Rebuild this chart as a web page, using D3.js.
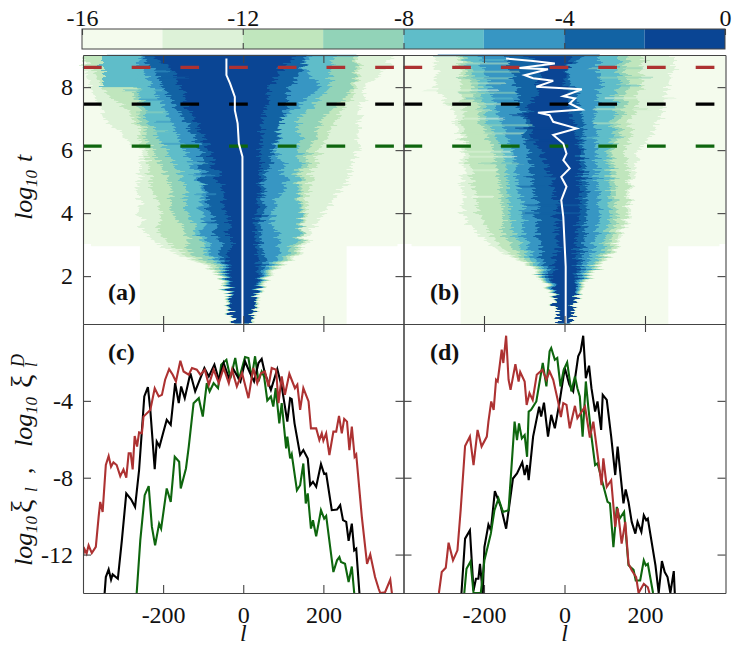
<!DOCTYPE html>
<html>
<head>
<meta charset="utf-8">
<script src="https://cdn.jsdelivr.net/npm/d3@7"></script>
<style>
  html, body { margin: 0; padding: 0; background: #fff; }
  text { font-family: "Liberation Serif", serif; fill: #111; }
  .tick line, .domain { stroke: #444; stroke-width: 1.1; }
</style>
</head>
<body>
<svg width="734" height="646"></svg>
<script>
// colour bins of the bar, lowest to highest
const binEdges = [-16, -14, -12, -10, -8, -6, -4, -2, 0];
const binColors = ["#f4fbed", "#ddf2d8", "#c0e6bd", "#92d3b8", "#5fbdc9", "#3796c3", "#1263a4", "#0a4594"];

// heat maps: for each log10 t row, l of the left and right edge of each level
const rowT = [0.5, 1.25, 2, 2.4, 2.85, 3.35, 4, 5, 6, 7, 8, 8.65, 9.02];
const paleT = [0.48, 2.95, 2.95, 3.02, 3.02, 9.02];
const paleL = [-258, -258, -380, -380, -400, -400];
const paleR = [258, 258, 385, 385, 400, 400];

const aLeft = [
  [-29, -42, -62, -108, -192, -246, -258, -262, -258, -346, -379, -400, -400],
  [-27, -40, -58, -100, -167, -212, -204, -233, -246, -271, -350, -383, -400],
  [-26, -38, -54, -83, -142, -142, -179, -183, -229, -258, -267, -350, -350],
  [-25, -36, -50, -67, -100, -117, -142, -146, -192, -242, -258, -350, -350],
  [-24, -34, -46, -58, -87, -104, -104, -104, -146, -183, -225, -254, -258],
  [-22, -31, -42, -50, -58, -67, -83, -100, -104, -150, -200, -225, -254],
  [-25, -33, -36, -42, -33, -33, -42, -58, -83, -125, -158, -183, -233]
];
const aRight = [
  [25, 38, 67, 108, 150, 167, 200, 258, 283, 288, 300, 367, 367],
  [22, 35, 62, 100, 142, 150, 154, 167, 192, 233, 283, 292, 283],
  [20, 33, 58, 92, 133, 150, 146, 142, 167, 200, 275, 283, 275],
  [19, 31, 54, 83, 117, 142, 142, 133, 142, 142, 217, 217, 233],
  [18, 30, 50, 75, 92, 83, 67, 108, 83, 100, 192, 150, 167],
  [17, 28, 46, 58, 46, 42, 50, 50, 75, 100, 117, 150, 150],
  [18, 30, 38, 38, 33, 29, 33, 42, 42, 50, 67, 100, 133]
];
const bLeft = [
  [-20, -32, -62, -99, -170, -220, -253, -253, -253, -270, -320, -320, -320],
  [-18, -30, -57, -95, -153, -187, -212, -228, -245, -253, -257, -262, -262],
  [-17, -28, -53, -87, -128, -153, -153, -162, -178, -212, -228, -253, -253],
  [-16, -26, -49, -78, -108, -124, -137, -141, -153, -195, -208, -237, -245],
  [-15, -24, -45, -66, -91, -99, -103, -116, -128, -162, -187, -203, -212],
  [-13, -20, -37, -53, -62, -66, -70, -78, -91, -103, -120, -137, -145],
  [-18, -27, -28, -28, -20, -20, -20, -28, -60, -95, -62, -60, -100]
];
const bRight = [
  [18, 30, 63, 97, 130, 147, 163, 163, 188, 238, 255, 272, 272],
  [16, 28, 59, 92, 126, 138, 155, 155, 155, 163, 188, 197, 197],
  [15, 26, 55, 84, 113, 122, 130, 122, 122, 138, 155, 155, 163],
  [14, 24, 51, 76, 97, 105, 113, 109, 109, 118, 130, 138, 138],
  [13, 22, 47, 59, 72, 80, 88, 80, 80, 72, 88, 88, 88],
  [11, 18, 38, 43, 47, 51, 55, 55, 47, 47, 22, 5, 55],
  [15, 25, 30, 30, 26, 30, 38, 38, 38, 22, 5, 5, 20]
];

// single rows that stand out from the bands: log10 t, l range, bin
const aRowT = [9, 9, 9, 8.5, 8.3, 7.9, 7.6, 7.2, 6.9, 6.6, 6.2, 5.6, 5.2, 4.6, 4.2, 3.7, 3.2];
const aRowA = [-340, -255, 150, -240, -200, -300, -250, -270, -220, -250, -200, -150, -130, -120, -110, -100, -70];
const aRowB = [-255, 150, 285, -190, -140, -200, -190, -200, -150, -190, -140, -90, -80, -70, -80, -60, -40];
const aRowBin = [5, 7, 5, 5, 6, 4, 5, 3, 5, 3, 5, 4, 5, 5, 5, 6, 6];

const bRowT = [9.01, 8.86, 8.75, 8.49, 8.28, 8.12, 7.9, 7.82, 7.64, 7.46, 7.27, 7.11, 7, 6.79, 6.69, 6.53, 6.32, 5.95, 5.79, 5.58, 5.36, 5.15, 4.84, 4.52, 4.25, 4, 8.6, 8.3, 8.05, 7.65, 7.3, 6.85, 6.4];
const bRowA = [-320, -250, -260, -240, -260, -250, -350, -260, -250, -300, -260, -130, -250, -200, -120, -230, -100, -250, -250, -200, -240, -90, -110, -240, -100, -110, 60, 80, 90, 100, 70, 70, 60];
const bRowB = [90, -130, -140, -110, -130, -150, -160, -120, -130, -150, -180, 5, -150, -90, 0, -100, 20, -130, -120, -110, -170, -20, -40, -180, 60, 50, 200, 220, 180, 270, 210, 170, 140];
const bRowBin = [6, 4, 2, 3, 3, 2, 1, 3, 4, 2, 2, 7, 1, 3, 7, 2, 7, 1, 1, 3, 1, 6, 6, 0, 6, 6, 3, 3, 4, 1, 2, 2, 4];

// block of the map that stops abruptly at log10 t = 8
const aBlockT = [9, 8];
const aBlockL = [-350, -260];
const aBlockBin = 4;

// white curves drawn over the maps
const aWhiteL = [-42, -42, -42, -33, -21, -21, -14, -11, -2, -2, -2];
const aWhiteT = [8.91, 8.65, 8.38, 8.12, 7.69, 7.27, 6.85, 6.21, 5.79, 4.84, 0.48];
const bWhiteL = [-145, -78, -24, -112, -41, -99, -78, -28, -70, 43, -3, 26, 13, 43, -66, -37, -28, 30, -28, -3, 5, -3, 13, -8, 5, -8, -3, 3, 3];
const bWhiteT = [8.91, 8.83, 8.75, 8.61, 8.57, 8.38, 8.28, 8.2, 8.01, 7.93, 7.71, 7.64, 7.48, 7.29, 7.19, 7.11, 6.9, 6.69, 6.48, 6.21, 5.89, 5.68, 5.42, 5.15, 4.84, 4.41, 3.88, 2.3, 0.5];

// times marked by the dashed lines
const markT = [8.63, 7.46, 6.13];
const markColors = ["#ad3232", "#000000", "#0e660e"];

// profiles of panel (c): red, black, green
const cRedL = [-403, -396, -391, -386, -378, -368, -361, -357, -351, -343, -336, -330, -324, -316, -307, -299, -292, -286, -281, -276, -271, -265, -260, -253, -249, -232, -221, -211, -203, -195, -185, -176, -168, -157, -149, -136, -128, -116, -107, -96, -86, -74, -61, -49, -36, -28, -16, -3, 13, 25, 35, 44, 54, 63, 71, 82, 88, 96, 104, 115, 129, 135, 142, 150, 163, 169, 182, 190, 196, 200, 207, 215, 225, 232, 239, 246, 252, 259, 265, 271, 278, 282, 296, 309, 317, 329, 338, 342, 354, 367, 371];
const cRedV = [-12.3, -11.73, -11.95, -11.52, -11.92, -11.6, -10.04, -9.26, -9.78, -7.34, -6.87, -7.43, -7.2, -7.34, -7.92, -7.57, -8, -6.73, -6.73, -7.57, -5.83, -6.38, -5.64, -5.69, -4.82, -4.47, -3.34, -3.77, -3.69, -2.9, -2.35, -2.64, -2.99, -1.91, -2.47, -2.64, -2.29, -2.38, -2.64, -2.38, -3.16, -2.38, -3.08, -2.29, -3.08, -2.38, -3.25, -2.55, -3.86, -2.29, -3.08, -2.56, -2.47, -3.25, -2.29, -2.38, -4.12, -2.73, -3.69, -2.59, -3.34, -3.16, -4.47, -3.34, -4.03, -5.43, -5.43, -6.04, -5.69, -6.07, -5.69, -6.82, -5.6, -5.6, -4.78, -5.69, -4.94, -5.08, -6.56, -5.34, -6.91, -6.79, -10.04, -12.48, -11.99, -13.17, -13.78, -14, -13.96, -13.3, -14];
const cBlackL = [-346, -343, -336, -330, -326, -313, -303, -292, -280, -270, -260, -247, -238, -232, -221, -216, -209, -199, -191, -181, -170, -161, -155, -146, -132, -120, -107, -97, -86, -72, -61, -49, -36, -24, -7, 4.5, 17, 27, 38, 46, 54, 69, 85, 96, 110, 117, 121, 128, 142, 150, 161, 167, 174, 182, 194, 202, 207, 221, 234, 242, 249, 257, 263, 271, 277, 282, 290];
const cBlackV = [-14, -13.17, -12.77, -13.31, -13.03, -13.26, -11.26, -8.82, -9.12, -9.52, -7.6, -3.77, -3.29, -4.47, -7.55, -6.12, -6.38, -5.6, -4.99, -5.25, -3.08, -4.12, -3.25, -3.86, -2.56, -3.51, -2.82, -2.29, -2.73, -2.12, -2.9, -2.03, -2.82, -2.38, -2.99, -1.95, -2.56, -2.99, -2.03, -1.82, -2.56, -3.43, -2.35, -3.25, -5.08, -3.86, -3.91, -5.17, -6.82, -6.56, -7, -8.39, -8.21, -8.47, -7.29, -7.81, -7.78, -9.69, -9.66, -9.43, -10.21, -10.3, -11.29, -10.39, -11.78, -11.69, -14];
const cGreenL = [-266, -257, -246, -236, -228, -220, -210, -205, -191, -181, -171, -160, -156, -143, -136, -124, -111, -101, -91, -84, -74, -63, -55, -42, -32, -20, -11, 4.5, 13, 21, 29.5, 38, 46, 52, 60, 69, 75, 81, 90, 96, 107, 110, 117, 121, 134, 142, 150, 156, 161, 169, 174, 182, 194, 202, 207, 225, 234, 240, 244, 254, 263, 271, 277];
const cGreenV = [-14, -11.26, -8.91, -8.44, -10.56, -11.52, -10.39, -10.65, -8.56, -9.26, -6.91, -7.17, -8.56, -7.52, -6.38, -4.12, -3.86, -4.82, -3.08, -3.51, -3.08, -3.34, -2.12, -1.86, -2.82, -1.77, -2.9, -1.72, -1.77, -2.82, -1.68, -2.99, -2.47, -2.73, -3.98, -3.77, -4.3, -3.34, -5.17, -4.12, -6.47, -5.86, -6.99, -6.77, -8.65, -8.39, -7.26, -9.34, -8.82, -10.65, -10.21, -11.05, -9.69, -10.13, -9.99, -12.91, -12.3, -12.13, -12.39, -12.48, -13.43, -12.62, -14];

// profiles of panel (d)
const dRedL = [-312, -305, -295, -288, -277, -266, -258, -247, -235, -226, -216, -206, -193, -189, -182, -176, -170, -166, -156, -152, -145, -139, -134, -122, -114, -110, -99, -94, -87, -79, -69, -55, -45, -37, -28, -16, -9, -3, 5, 13, 26, 32, 51, 63, 71.6, 92, 96.5, 105, 116, 126, 132, 142, 151, 159, 167, 178, 184, 197, 207, 211];
const dRedV = [-14, -12.91, -12.69, -11.38, -12.3, -11.78, -9.69, -6.35, -5.86, -7.34, -5.51, -6.38, -5.86, -5.08, -4.03, -4.47, -2.9, -2.99, -1.34, -2.03, -0.61, -2.9, -3.43, -2.09, -2.99, -2.5, -2.99, -4.21, -3.6, -3.95, -2.64, -2.38, -2.9, -2.47, -2.9, -4.03, -4.85, -4.12, -4.21, -5.43, -4.26, -4.9, -4.3, -5.91, -5.08, -8.39, -6.99, -8.47, -8.13, -10.56, -9.6, -11.43, -10.3, -12.47, -12.82, -13.17, -14, -13.52, -13.7, -14];
const dBlackL = [-256, -247, -235, -226, -220, -214, -210, -203, -199, -189, -183, -173, -158, -145, -128, -118, -105, -99, -93, -89, -78, -63, -58, -51, -41, -33, -24, -12, 0.7, 12, 21.6, 34, 40, 46.5, 53, 61, 67, 76, 82, 91, 95, 105, 116, 126, 132, 146.5, 152, 159, 167, 176, 181.5, 191, 197, 203, 207, 226, 234, 242, 249, 256, 263, 271.5, 274];
const dBlackV = [-14, -11.17, -10.74, -13.87, -13.26, -13.26, -12.48, -14, -11.61, -10.44, -10.74, -8.7, -9.52, -10.65, -8.04, -7.78, -7.2, -7.86, -7.34, -8.13, -5.86, -4.3, -4.82, -4.09, -5.86, -4.73, -5.43, -4.03, -2.29, -3.16, -3.51, -1.68, -1.42, -0.61, -2.82, -2.17, -3.34, -4.56, -4.03, -5.51, -3.69, -3.95, -5.86, -7.86, -6.38, -9.34, -8.61, -9.26, -10.3, -10.91, -10.3, -10.82, -9.95, -10.21, -10.13, -12.56, -14, -12.34, -12.91, -13.17, -14, -12.86, -14];
const dGreenL = [-249, -243.5, -233.5, -226, -208, -199, -191, -183, -174, -164, -153, -139, -124, -118, -113, -106, -99, -93, -89, -83, -70, -54, -45, -37, -33, -24, -18, -10, -2, 6.6, 17, 26, 32, 38, 45, 53, 59, 67, 76, 82, 107, 113, 121.5, 130, 137, 148, 159, 171.5, 177, 188, 197, 202, 207, 220];
const dGreenV = [-14, -12.74, -12.36, -14, -14, -12.3, -11.6, -10.91, -9.69, -9.08, -9.78, -9.69, -5.08, -6.04, -5.17, -5.95, -5.78, -6.91, -4.56, -4.47, -4.03, -2.03, -3.25, -1.42, -1.25, -1.86, -1.77, -3.25, -2.38, -2, -3.51, -2.73, -3.34, -3.77, -5.86, -2.99, -4.3, -5.86, -7.34, -7.25, -9.26, -9.34, -11.61, -9.52, -10.13, -9.78, -12.56, -12.79, -13.35, -13.35, -12.3, -12.56, -12.48, -14];

const svg = d3.select("svg");
const xA = d3.scaleLinear().domain([-400, 400]).range([83, 403.5]);
const xB = d3.scaleLinear().domain([-400, 400]).range([403.5, 725.5]);
const yTop = d3.scaleLinear().domain([0.48, 9.02]).range([324, 55]);
const yBot = d3.scaleLinear().domain([-14, 0]).range([593, 324]);
const xBar = d3.scaleLinear().domain([-16, 0]).range([82, 725]);

// frays the edges of the bands row by row, only a sideways shift
const fray = svg.append("filter").attr("id", "fray")
  .attr("filterUnits", "userSpaceOnUse")
  .attr("x", 70).attr("y", 50).attr("width", 670).attr("height", 280)
  .attr("color-interpolation-filters", "sRGB");
fray.append("feTurbulence")
  .attr("type", "fractalNoise").attr("baseFrequency", "0.012 0.45").attr("numOctaves", 2).attr("seed", 4).attr("result", "n");
fray.append("feColorMatrix")
  .attr("in", "n").attr("type", "matrix")
  .attr("values", "1 0 0 0 0  0 0 0 0 0.5  0 0 0 0 0  0 0 0 0 1").attr("result", "shift");
fray.append("feDisplacementMap")
  .attr("in", "SourceGraphic").attr("in2", "shift")
  .attr("scale", 20).attr("xChannelSelector", "R").attr("yChannelSelector", "G");

// colour bar
const bar = svg.append("g");
bar.selectAll("rect")
  .data(binColors)
  .enter()
  .append("rect")
  .attr("x", (d, i) => xBar(binEdges[i]))
  .attr("y", 29)
  .attr("width", (d, i) => xBar(binEdges[i + 1]) - xBar(binEdges[i]))
  .attr("height", 20)
  .attr("fill", d => d);
bar.append("rect")
  .attr("x", 82).attr("y", 29).attr("width", 643).attr("height", 20)
  .attr("fill", "none").attr("stroke", "#444");
const barAxis = svg.append("g")
  .attr("transform", "translate(0,29)")
  .call(d3.axisTop(xBar).tickValues([-16, -12, -8, -4, 0]).tickSize(-6).tickSizeOuter(0).tickPadding(3).tickFormat(d => String(d)));
barAxis.select(".domain").remove();
barAxis.selectAll(".tick line").attr("stroke", "#777");
svg.append("g")
  .attr("transform", "translate(0,49)")
  .call(d3.axisBottom(xBar).tickValues([-12, -8, -4]).tickSize(-6).tickSizeOuter(0).tickFormat(""))
  .select(".domain").remove();

function heat(x, left, right, rows, whiteL, whiteT) {
  const g = svg.append("g");
  g.append("path")
    .datum(paleT.map((t, i) => ({ t: t, l: paleL[i], r: paleR[i] })))
    .attr("fill", binColors[0])
    .attr("d", d3.area().y(d => yTop(d.t)).x0(d => x(d.l)).x1(d => x(d.r)));
  const bands = g.append("g").attr("filter", "url(#fray)");
  left.forEach((edge, k) => {
    bands.append("path")
      .datum(rowT.map((t, i) => ({ t: t, l: edge[i], r: right[k][i] })))
      .attr("fill", binColors[k + 1])
      .attr("d", d3.area().y(d => yTop(d.t)).x0(d => x(d.l)).x1(d => x(d.r)));
  });
  rows.t.forEach((t, i) => {
    bands.append("rect")
      .attr("x", x(rows.a[i]))
      .attr("y", yTop(t) - 1)
      .attr("width", x(rows.b[i]) - x(rows.a[i]))
      .attr("height", 2)
      .attr("fill", binColors[rows.bin[i]])
      .attr("opacity", 0.55);
  });
  if (rows.block) {
    bands.append("rect")
      .attr("x", x(rows.block.l[0]))
      .attr("y", yTop(rows.block.t[0]))
      .attr("width", x(rows.block.l[1]) - x(rows.block.l[0]))
      .attr("height", yTop(rows.block.t[1]) - yTop(rows.block.t[0]))
      .attr("fill", binColors[rows.block.bin]);
  }
  markT.forEach((t, i) => {
    g.append("line")
      .attr("x1", x(-400)).attr("x2", x(400))
      .attr("y1", yTop(t)).attr("y2", yTop(t))
      .attr("stroke", markColors[i])
      .attr("stroke-width", 3.2)
      .attr("stroke-dasharray", "18.7 30");
  });
  g.append("path")
    .datum(whiteL.map((l, i) => [l, whiteT[i]]))
    .attr("fill", "none")
    .attr("stroke", "#fff")
    .attr("stroke-width", 2)
    .attr("d", d3.line().x(d => x(d[0])).y(d => yTop(d[1])));
}

function profiles(x, series, clipId) {
  const g = svg.append("g").attr("clip-path", `url(#${clipId})`);
  series.forEach(s => {
    g.append("path")
      .datum(s.l.map((l, i) => [l, s.v[i]]))
      .attr("fill", "none")
      .attr("stroke", s.color)
      .attr("stroke-width", 2.1)
      .attr("d", d3.line().x(d => x(d[0])).y(d => yBot(d[1])));
  });
}

[["clipC", xA], ["clipD", xB]].forEach(([id, x]) => {
  svg.append("clipPath").attr("id", id).append("rect")
    .attr("x", x.range()[0]).attr("y", 324)
    .attr("width", x.range()[1] - x.range()[0]).attr("height", 269);
});

heat(xA, aLeft, aRight, { t: aRowT, a: aRowA, b: aRowB, bin: aRowBin, block: { t: aBlockT, l: aBlockL, bin: aBlockBin } }, aWhiteL, aWhiteT);
heat(xB, bLeft, bRight, { t: bRowT, a: bRowA, b: bRowB, bin: bRowBin }, bWhiteL, bWhiteT);
profiles(xA, [
  { l: cGreenL, v: cGreenV, color: markColors[2] },
  { l: cBlackL, v: cBlackV, color: markColors[1] },
  { l: cRedL, v: cRedV, color: markColors[0] }
], "clipC");
profiles(xB, [
  { l: dBlackL, v: dBlackV, color: markColors[1] },
  { l: dGreenL, v: dGreenV, color: markColors[2] },
  { l: dRedL, v: dRedV, color: markColors[0] }
], "clipD");

// axes, ticks point into the panels
const lTicks = [-200, 0, 200];
function frame(x, y, tTicks, showLeft, showBottom) {
  const left = svg.append("g").attr("transform", `translate(${x.range()[0]},0)`)
    .call(d3.axisLeft(y).tickValues(tTicks).tickSize(-8).tickSizeOuter(0).tickPadding(10).tickFormat(d => String(d)));
  if (!showLeft) left.selectAll("text").remove();
  svg.append("g").attr("transform", `translate(${x.range()[1]},0)`)
    .call(d3.axisRight(y).tickValues(tTicks).tickSize(-8).tickSizeOuter(0).tickFormat(""));
  svg.append("g").attr("transform", `translate(0,${y.range()[1]})`)
    .call(d3.axisTop(x).tickValues(lTicks).tickSize(-8).tickSizeOuter(0).tickFormat(""));
  const bottom = svg.append("g").attr("transform", `translate(0,${y.range()[0]})`)
    .call(d3.axisBottom(x).tickValues(lTicks).tickSize(-8).tickSizeOuter(0).tickPadding(13).tickFormat(d => String(d)));
  if (!showBottom) bottom.selectAll("text").remove();
}
frame(xA, yTop, [2, 4, 6, 8], true, false);
frame(xB, yTop, [2, 4, 6, 8], false, false);
frame(xA, yBot, [-12, -8, -4], true, true);
frame(xB, yBot, [-12, -8, -4], false, true);
svg.selectAll(".tick text").style("font-size", "24px");

// panel letters
[["(a)", 108, 300], ["(b)", 430, 300], ["(c)", 108, 360], ["(d)", 430, 360]].forEach(p => {
  svg.append("text").attr("x", p[1]).attr("y", p[2]).text(p[0])
    .style("font-size", "24px").style("font-weight", "bold");
});

// axis titles, written upwards from the given point
function title(px, py, str, size, style) {
  svg.append("text")
    .attr("transform", `translate(${px},${py}) rotate(-90)`)
    .text(str)
    .style("font-size", size + "px")
    .style("font-style", style);
}
[xA(0), xB(0)].forEach(px => {
  svg.append("text").attr("x", px).attr("y", 641).attr("text-anchor", "middle").text("l")
    .style("font-size", "24px").style("font-style", "italic");
});
title(32, 220, "log", 26, "italic");
title(37, 187, "10", 17, "italic");
title(32, 162, "t", 26, "italic");

title(32, 566, "log", 26, "italic");
title(37, 533, "10", 17, "italic");
title(32, 513, "ξ", 30, "normal");
title(37, 492, "l", 17, "italic");
title(32, 474, ",", 26, "normal");
title(32, 447, "log", 26, "italic");
title(37, 414, "10", 17, "italic");
title(32, 388, "ξ", 30, "normal");
title(37, 367, "l", 17, "italic");
title(24, 367, "D", 18, "italic");
</script>
</body>
</html>
